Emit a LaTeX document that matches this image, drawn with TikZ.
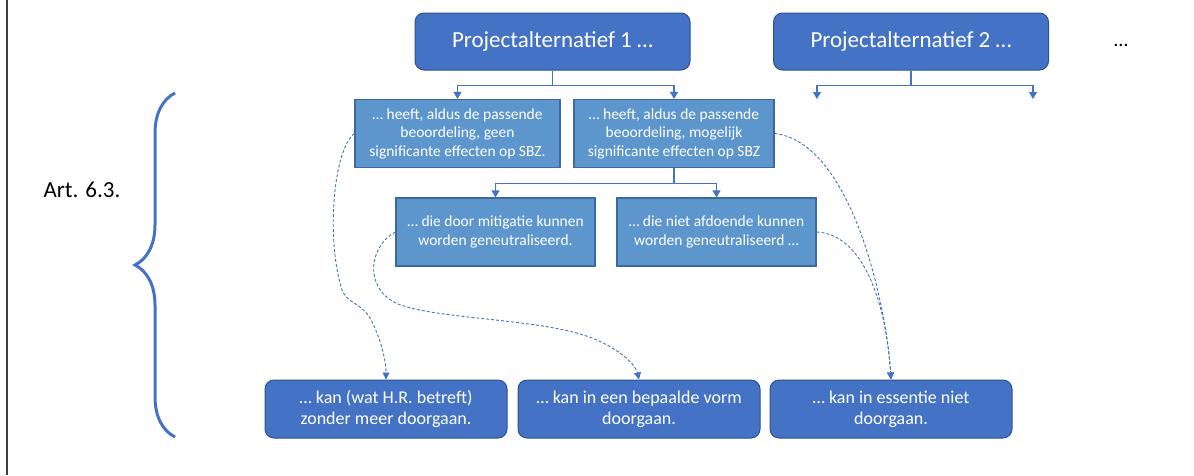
\documentclass[tikz,border=0pt]{standalone}
\usepackage{fontspec}
\setmainfont{Carlito}
\usepackage{xcolor}
\usepackage{tikz}
\usetikzlibrary{arrows.meta,decorations.pathreplacing}
\definecolor{donker}{HTML}{4472C4}
\definecolor{donkerrand}{HTML}{2F528F}
\definecolor{licht}{HTML}{5D96CD}
\definecolor{lichtrand}{HTML}{3D6A9C}

\begin{document}
\begin{tikzpicture}[x=1pt,y=-1pt,
	alternatief/.style={shape=rectangle,rounded corners=9pt,draw=donkerrand,fill=donker,text=white,line width=1pt,minimum width=275pt,minimum height=57pt,font=\fontsize{23}{27}\selectfont},
	stap/.style={shape=rectangle,draw=lichtrand,fill=licht,text=white,line width=1.2pt,minimum height=68pt,align=center,font=\fontsize{15.5}{18.5}\selectfont},
	uitkomst/.style={shape=rectangle,rounded corners=9pt,draw=donkerrand,fill=donker,text=white,line width=1pt,minimum width=242pt,minimum height=58pt,align=center,font=\fontsize{18}{21}\selectfont},
	tak/.style={draw=donker,line width=1.2pt,-{Triangle[width=8pt,length=7pt]}},
	gestippeld/.style={draw=donker,line width=0.9pt,dash pattern=on 3pt off 2pt,-{Triangle[width=7pt,length=7pt]}}]
	\useasboundingbox (0,0) rectangle (1194,475);
	\draw[line width=2pt,color=black!75] (7,0) -- (7,475);

	\node (pa1) at(552.5,41.5)[alternatief]{Projectalternatief 1 …};
	\node (pa2) at(911,41.5)[alternatief]{Projectalternatief 2 …};
	\node (dots) at(1121,45)[font=\fontsize{20}{24}\selectfont]{…};
	\node (art) at(82,190)[font=\fontsize{23}{27}\selectfont]{Art. 6.3.};

	\node (geen) at(457.5,133.5)[stap,minimum width=205pt]{… heeft, aldus de passende\\beoordeling, geen\\significante effecten op SBZ.};
	\node (mogelijk) at(674,133.5)[stap,minimum width=200pt]{… heeft, aldus de passende\\beoordeling, mogelijk\\significante effecten op SBZ};
	\node (mitigatie) at(495.5,232)[stap,minimum width=199pt]{… die door mitigatie kunnen\\worden geneutraliseerd.};
	\node (nietafd) at(716.5,232)[stap,minimum width=199pt]{… die niet afdoende kunnen\\worden geneutraliseerd …};

	\node (zonder) at(386,409)[uitkomst]{… kan (wat H.R. betreft)\\zonder meer doorgaan.};
	\node (vorm) at(639,409)[uitkomst]{… kan in een bepaalde vorm\\doorgaan.};
	\node (niet) at(891,409)[uitkomst]{… kan in essentie niet\\doorgaan.};

	\coordinate (pa2l) at(817,99);
	\coordinate (pa2r) at(1033,99);

	% vertakkingen
	\foreach \doel in {geen,mogelijk}{
		\draw[tak] (pa1.south) -- ++(0,15) -| (\doel.north);
	}
	\foreach \doel in {pa2l,pa2r}{
		\draw[tak] (pa2.south) -- ++(0,15) -| (\doel);
	}
	\foreach \doel in {mitigatie,nietafd}{
		\draw[tak] (mogelijk.south) -- ++(0,15) -| (\doel.north);
	}

	% gestippelde verbindingen
	\draw[gestippeld] (geen.west) .. controls (333,150) and (326,240) .. (342,290) .. controls (348,304) and (360,302) .. (370,318) .. controls (380,336) and (386,360) .. (zonder.north);
	\draw[gestippeld] (mitigatie.west) .. controls (370,245) and (362,288) .. (398,304) .. controls (440,320) and (540,318) .. (592,338) .. controls (622,350) and (636,366) .. (vorm.north);
	\draw[gestippeld] (mogelijk.east) .. controls (850,142) and (886,300) .. (niet.north);
	\draw[gestippeld] (nietafd.east) .. controls (862,234) and (886,300) .. (niet.north);

	\draw[decorate,decoration={brace,amplitude=40pt},draw=donker,line width=3pt] (175,437) -- (175,93);
\end{tikzpicture}
\end{document}
